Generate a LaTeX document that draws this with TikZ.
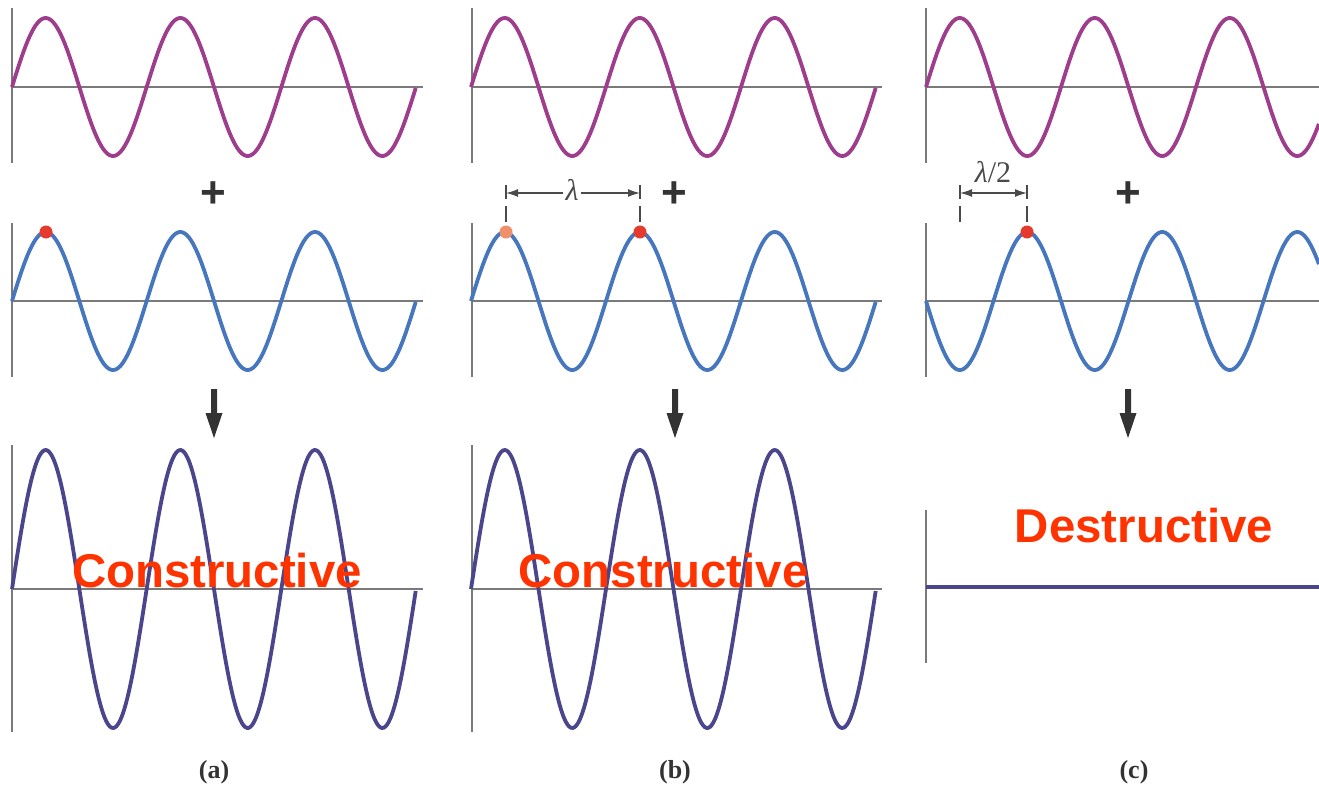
\documentclass[tikz,border=0pt]{standalone}
\usepackage{fontspec}
\setmainfont{Liberation Serif}
\newfontfamily\sansb{Liberation Sans}
\usetikzlibrary{arrows.meta}
\definecolor{wtop}{HTML}{9E3D8C}
\definecolor{wmid}{HTML}{4677BE}
\definecolor{wbot}{HTML}{4B468C}
\definecolor{axisgray}{HTML}{7A7A7A}
\definecolor{dimgray}{HTML}{4A4A4A}
\definecolor{arrgray}{HTML}{333333}
\definecolor{dotred}{HTML}{E53A2E}
\definecolor{dotlight}{HTML}{F0906A}
\definecolor{txtred}{HTML}{FF3300}
\tikzset{
  axisline/.style={draw=axisgray, line width=1.8pt},
  wavetop/.style={draw=wtop, line width=3.8pt},
  wavemid/.style={draw=wmid, line width=3.8pt},
  wavebot/.style={draw=wbot, line width=3.8pt},
  dotmark/.style={circle, inner sep=0pt, minimum size=13pt},
  dimline/.style={draw=dimgray, line width=1.4pt},
  dimarrow/.style={dimline, -{Latex[length=12pt,width=8pt]}},
  plussign/.style={font=\sansb\fontsize{44}{44}\selectfont\bfseries, text=arrgray, inner sep=0pt},
  bigword/.style={font=\sansb\fontsize{47.4}{50}\selectfont\bfseries, text=txtred, inner sep=0pt, anchor=base},
  panellabel/.style={font=\fontsize{26}{28}\selectfont\bfseries, text=arrgray, inner sep=0pt},
  lamlabel/.style={font=\fontsize{30}{32}\selectfont, text=dimgray, inner sep=2pt},
  downarrow/.style={fill=arrgray}
}
\begin{document}
\begin{tikzpicture}[x=1pt,y=-1pt]
\useasboundingbox (0,0) rectangle (1319,787);
\fill[white] (0,0) rectangle (1319,787);

% ---------- axes ----------
% panel a
\draw[axisline] (12,8) -- (12,163);
\draw[axisline] (12,87) -- (423,87);
\draw[axisline] (12,223) -- (12,377);
\draw[axisline] (12,301) -- (423,301);
\draw[axisline] (12,445) -- (12,732);
\draw[axisline] (12,589) -- (423,589);
% panel b
\draw[axisline] (472,8) -- (472,163);
\draw[axisline] (472,87) -- (882,87);
\draw[axisline] (472,223) -- (472,377);
\draw[axisline] (472,301) -- (882,301);
\draw[axisline] (472,445) -- (472,732);
\draw[axisline] (472,589) -- (882,589);
% panel c
\draw[axisline] (926,8) -- (926,163);
\draw[axisline] (926,87) -- (1319,87);
\draw[axisline] (926,223) -- (926,377);
\draw[axisline] (926,301) -- (1319,301);
\draw[axisline] (926,510) -- (926,663);

% ---------- waves ----------
% panel a
\draw[wavetop] plot[domain=0:3, samples=240, smooth] ({12+134.67*\x},{87-69*sin(360*\x)});
\draw[wavemid] plot[domain=0:3, samples=240, smooth] ({12+134.67*\x},{301-69*sin(360*\x)});
\draw[wavebot] plot[domain=0:3, samples=240, smooth] ({12+134.67*\x},{589-139*sin(360*\x)});
% panel b
\draw[wavetop] plot[domain=0:3, samples=240, smooth] ({471+135*\x},{87-69*sin(360*\x)});
\draw[wavemid] plot[domain=0:3, samples=240, smooth] ({471+135*\x},{301-69*sin(360*\x)});
\draw[wavebot] plot[domain=0:3, samples=240, smooth] ({471+135*\x},{589-139*sin(360*\x)});
% panel c
\draw[wavetop] plot[domain=0:2.911, samples=240, smooth] ({926+135*\x},{87-69*sin(360*\x)});
\draw[wavemid] plot[domain=0:2.911, samples=240, smooth] ({926+135*\x},{301+69*sin(360*\x)});
\draw[wavebot] (926,587) -- (1319,587);

% ---------- dots ----------
\node[dotmark, fill=dotred] (dotA) at (46,232) {};
\node[dotmark, fill=dotlight] (dotB1) at (506,232) {};
\node[dotmark, fill=dotred] (dotB2) at (640,232) {};
\node[dotmark, fill=dotred] (dotC) at (1027,232) {};

% ---------- dimension lambda ----------
\draw[dimline] (506,185) -- (506,199);
\draw[dimline] (506,206) -- (506,222);
\draw[dimline] (640,185) -- (640,199);
\draw[dimline] (640,206) -- (640,222);
\coordinate (lamL) at (506,193);
\coordinate (lamR) at (640,193);
\node[lamlabel] (lam) at (572,190) {\itshape λ};
\draw[dimarrow] (lam.west |- lamL) -- (lamL);
\draw[dimarrow] (lam.east |- lamR) -- (lamR);

% ---------- dimension lambda/2 ----------
\draw[dimline] (960,185) -- (960,199);
\draw[dimline] (960,206) -- (960,222);
\draw[dimline] (1027,185) -- (1027,199);
\draw[dimline] (1027,206) -- (1027,222);
\coordinate (halfL) at (960,193);
\coordinate (halfR) at (1027,193);
\coordinate (halfM) at (993.5,193);
\node[lamlabel] (lamhalf) at (993,172) {{\itshape λ}/2};
\draw[dimarrow] (halfM) -- (halfL);
\draw[dimarrow] (halfM) -- (halfR);

% ---------- plus signs ----------
\node[plussign] (plusA) at (213,195) {+};
\node[plussign] (plusB) at (674,195) {+};
\node[plussign] (plusC) at (1128,195) {+};

% ---------- down arrows ----------
\foreach \ax/\nm in {214/A,675/B,1128/C}{
  \fill[downarrow] (\ax-3,389) -- (\ax+3,389) -- (\ax+3,413) -- (\ax+8.5,413)
     -- (\ax,438) -- (\ax-8.5,413) -- (\ax-3,413) -- cycle;
}

% ---------- big words ----------
\node[bigword] (consA) at (217,587) {Constructive};
\node[bigword] (consB) at (663.5,587) {Constructive};
\node[bigword] (dest) at (1144,542) {Destructive};

% ---------- panel labels ----------
\node[panellabel] (labA) at (214,772) {(a)};
\node[panellabel] (labB) at (675,772) {(b)};
\node[panellabel] (labC) at (1134,772) {(c)};
\end{tikzpicture}
\end{document}
